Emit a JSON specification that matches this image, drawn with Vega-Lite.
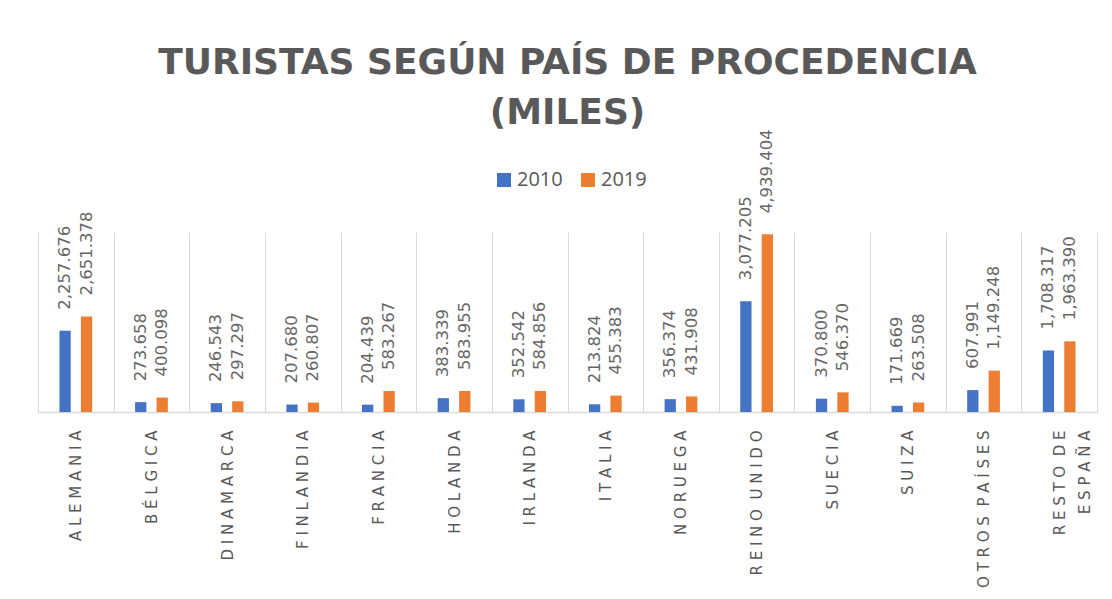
{
  "$schema": "https://vega.github.io/schema/vega-lite/v6.json",
  "width": 1059,
  "height": 180,
  "autosize": {"type": "none"},
  "padding": {"left": 38, "top": 232, "right": 15, "bottom": 187},
  "background": "white",
  "config": {"view": {"stroke": null}},
  "title": {
    "text": ["TURISTAS SEGÚN PAÍS DE PROCEDENCIA", "(MILES)"],
    "font": "DejaVu Sans",
    "fontSize": 36,
    "fontWeight": "bold",
    "color": "#595959",
    "lineHeight": 50,
    "anchor": "middle",
    "frame": "group",
    "offset": -3
  },
  "data": {
    "values": [
      {"pais": "ALEMANIA", "anio": "2010", "valor": 2257.676},
      {"pais": "ALEMANIA", "anio": "2019", "valor": 2651.378},
      {"pais": "BÉLGICA", "anio": "2010", "valor": 273.658},
      {"pais": "BÉLGICA", "anio": "2019", "valor": 400.098},
      {"pais": "DINAMARCA", "anio": "2010", "valor": 246.543},
      {"pais": "DINAMARCA", "anio": "2019", "valor": 297.297},
      {"pais": "FINLANDIA", "anio": "2010", "valor": 207.680},
      {"pais": "FINLANDIA", "anio": "2019", "valor": 260.807},
      {"pais": "FRANCIA", "anio": "2010", "valor": 204.439},
      {"pais": "FRANCIA", "anio": "2019", "valor": 583.267},
      {"pais": "HOLANDA", "anio": "2010", "valor": 383.339},
      {"pais": "HOLANDA", "anio": "2019", "valor": 583.955},
      {"pais": "IRLANDA", "anio": "2010", "valor": 352.542},
      {"pais": "IRLANDA", "anio": "2019", "valor": 584.856},
      {"pais": "ITALIA", "anio": "2010", "valor": 213.824},
      {"pais": "ITALIA", "anio": "2019", "valor": 455.383},
      {"pais": "NORUEGA", "anio": "2010", "valor": 356.374},
      {"pais": "NORUEGA", "anio": "2019", "valor": 431.908},
      {"pais": "REINO UNIDO", "anio": "2010", "valor": 3077.205},
      {"pais": "REINO UNIDO", "anio": "2019", "valor": 4939.404},
      {"pais": "SUECIA", "anio": "2010", "valor": 370.800},
      {"pais": "SUECIA", "anio": "2019", "valor": 546.370},
      {"pais": "SUIZA", "anio": "2010", "valor": 171.669},
      {"pais": "SUIZA", "anio": "2019", "valor": 263.508},
      {"pais": "OTROS PAÍSES", "anio": "2010", "valor": 607.991},
      {"pais": "OTROS PAÍSES", "anio": "2019", "valor": 1149.248},
      {"pais": "RESTO DE ESPAÑA", "anio": "2010", "valor": 1708.317},
      {"pais": "RESTO DE ESPAÑA", "anio": "2019", "valor": 1963.390}
    ]
  },
  "encoding": {
    "x": {
      "field": "pais",
      "type": "nominal",
      "sort": null,
      "scale": {"paddingInner": 0, "paddingOuter": 0},
      "axis": {
        "title": null,
        "tickBand": "extent",
        "ticks": false,
        "grid": true,
        "gridColor": "#d9d9d9",
        "gridWidth": 1,
        "domainColor": "#d9d9d9",
        "domainWidth": 1.5,
        "labelAngle": -90,
        "labelFont": "DejaVu Sans",
        "labelFontSize": 15,
        "labelColor": "#595959",
        "labelPadding": 18,
        "labelLineHeight": 25,
        "labelExpr": "!isValid(datum.value) ? '' : datum.value == 'RESTO DE ESPAÑA' ? ['R E S T O\u00a0\u00a0D E', 'E S P A Ñ A'] : replace(join(split(datum.value, ''), ' '), '   ', '\u00a0\u00a0')"
      }
    },
    "xOffset": {
      "field": "anio",
      "type": "nominal",
      "scale": {"paddingInner": 0.475, "paddingOuter": 1.13}
    },
    "y": {
      "field": "valor",
      "type": "quantitative",
      "scale": {"domain": [0, 5000]},
      "axis": null
    },
    "color": {
      "field": "anio",
      "type": "nominal",
      "scale": {"domain": ["2010", "2019"], "range": ["#4472C4", "#ED7D31"]},
      "legend": {
        "title": null,
        "orient": "none",
        "legendX": 456,
        "legendY": -62,
        "direction": "horizontal",
        "symbolType": "square",
        "symbolSize": 196,
        "symbolStrokeWidth": 0,
        "labelFont": "Open Sans",
        "labelFontSize": 20,
        "labelColor": "#595959",
        "labelOffset": 3,
        "columnPadding": 15,
        "padding": 0
      }
    }
  },
  "layer": [
    {"mark": {"type": "bar"}},
    {
      "mark": {
        "type": "text",
        "angle": 270,
        "align": "left",
        "baseline": "middle",
        "dx": 21,
        "font": "DejaVu Sans",
        "fontSize": 16.5
      },
      "encoding": {
        "text": {"field": "valor", "type": "quantitative", "format": ",.3f"},
        "color": {"value": "#666666"}
      }
    }
  ]
}
